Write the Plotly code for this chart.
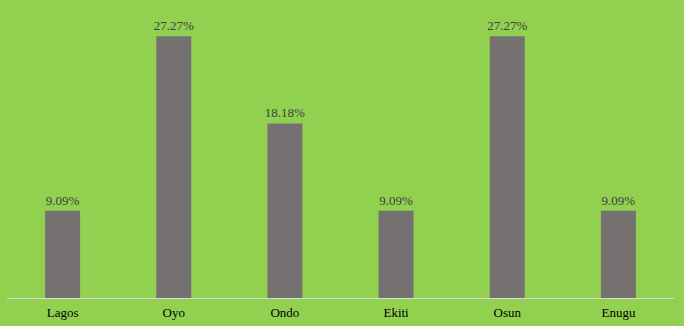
import plotly.graph_objects as go

categories = ["Lagos", "Oyo", "Ondo", "Ekiti", "Osun", "Enugu"]
values = [9.09, 27.27, 18.18, 9.09, 27.27, 9.09]
labels = [f"{v:.2f}%" for v in values]

fig = go.Figure(go.Bar(
    x=categories, y=values, text=labels, textposition="outside",
    constraintext="none",
    marker=dict(color="#767171", line=dict(width=0)), width=0.315, cliponaxis=False,
    textfont=dict(family="Liberation Serif", size=13, color="#404040"),
))
fig.update_layout(
    width=684, height=326,
    margin=dict(l=7, r=10, t=10, b=28, autoexpand=False),
    paper_bgcolor="#92D050", plot_bgcolor="#92D050",
    showlegend=False,
    xaxis=dict(showline=True, linecolor="#D9D9D9", linewidth=1, ticks="",
               tickfont=dict(family="Liberation Serif", size=13, color="black"),
               ticklabelstandoff=2, automargin=False, showgrid=False),
    yaxis=dict(range=[0, 30], visible=False, showgrid=False),
)
fig.write_html("out.html")
